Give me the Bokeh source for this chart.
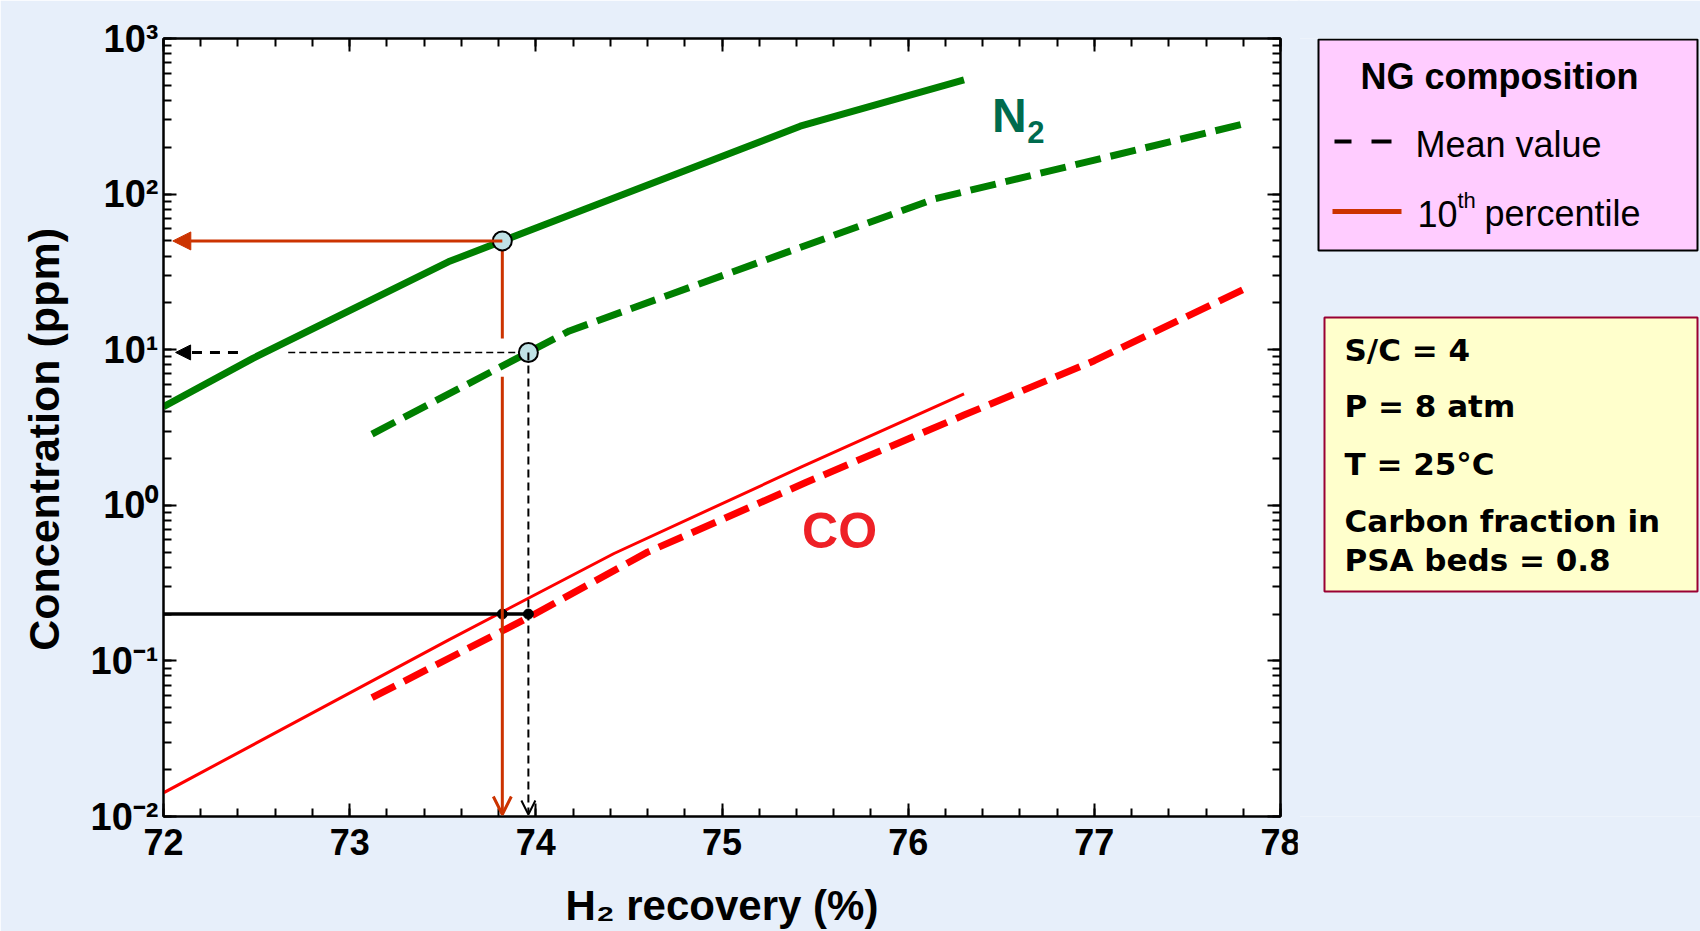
from bokeh.plotting import figure
from bokeh.models import (Range1d, LinearAxis, LogAxis, Arrow, NormalHead, OpenHead,
                          CustomJSTickFormatter, SingleIntervalTicker, LogTicker)
from bokeh.layouts import row
from bokeh.embed import file_html
from bokeh.resources import INLINE
from bokeh.core.properties import value

# ---------------- data ----------------
x_ticks = [72, 73, 74, 75, 76, 77, 78]
y_ticks = [0.01, 0.1, 1, 10, 100, 1000]
y_tick_labels = ["10\u207b\u00b2", "10\u207b\u00b9", "10\u2070", "10\u00b9", "10\u00b2", "10\u00b3"]

# N2, 10th percentile NG composition (solid)
n2_p10_x = [72.0, 72.48, 73.53, 75.42, 76.30]
n2_p10_y = [4.3, 8.8, 36.7, 273, 543]
# N2, mean NG composition (dashed)
n2_mean_x = [73.12, 74.18, 76.14, 77.82]
n2_mean_y = [2.87, 13.2, 93, 286]
# CO, 10th percentile (solid thin)
co_p10_x = [72.0, 73.53, 74.42, 75.43, 76.30]
co_p10_y = [0.0142, 0.136, 0.49, 1.77, 5.2]
# CO, mean (dashed)
co_mean_x = [73.12, 73.96, 74.60, 75.45, 76.30, 77.00, 77.82]
co_mean_y = [0.058, 0.19, 0.50, 1.40, 3.8, 8.5, 25.0]

# read-off points
co_limit = 0.2
p10_recovery = 73.82
mean_recovery = 73.96
p10_n2 = 50.0
mean_n2 = 9.6

legend_title = "NG composition"
legend_items = ["Mean value", "percentile"]
conditions = ["S/C = 4", "P = 8 atm", "T = 25\u00b0C", "Carbon fraction in", "PSA beds = 0.8"]

# ---------------- styles ----------------
BG = "#E7EFFA"
GREEN = "#007F00"
RED = "#FF0000"
ORANGE = "#CC3300"
N2_COLOR = "#006B4E"
CO_COLOR = "#EE2026"
FONT = "Liberation Sans"

p = figure(frame_width=1117, frame_height=778, x_range=Range1d(72, 78), y_range=Range1d(0.01, 1000),
           y_axis_type="log", output_backend="svg", toolbar_location=None,
           min_border_left=163, min_border_right=20, min_border_top=38, min_border_bottom=115,
           background_fill_color="white", border_fill_color=BG,
           outline_line_color="black", outline_line_width=2)
p.grid.visible = False

p.xaxis.ticker = SingleIntervalTicker(interval=1, num_minor_ticks=5)
p.yaxis.ticker = LogTicker(num_minor_ticks=10)
p.yaxis.major_label_overrides = {t: l for t, l in zip(y_ticks, y_tick_labels)}


def style(ax):
    ax.axis_line_color = "black"
    ax.axis_line_width = 2
    ax.major_tick_in = 13
    ax.major_tick_out = 0
    ax.minor_tick_in = 8
    ax.minor_tick_out = 0
    ax.major_tick_line_width = 2
    ax.minor_tick_line_width = 2
    ax.minor_tick_line_color = "black"
    ax.major_label_text_font = FONT
    ax.major_label_text_font_style = "bold"
    ax.major_label_text_font_size = "36px"
    ax.major_label_text_color = "black"
    ax.axis_label_text_font = FONT
    ax.axis_label_text_font_style = "bold"
    ax.axis_label_text_font_size = "42px"
    ax.axis_label_text_color = "black"


for ax in p.xaxis + p.yaxis:
    style(ax)
p.xaxis.major_label_standoff = 12
p.xaxis.axis_label = "H\u2082 recovery (%)"
p.xaxis.axis_label_standoff = 24
p.yaxis.major_label_standoff = 5
p.yaxis.major_label_text_font_size = "38px"
p.yaxis.axis_label = "Concentration (ppm)\u00a0\u00a0"
p.yaxis.axis_label_text_font_size = "43px"
p.yaxis.axis_label_standoff = 20

blank = CustomJSTickFormatter(code="return ''")
top_ax = LinearAxis(ticker=SingleIntervalTicker(interval=1, num_minor_ticks=5), formatter=blank)
right_ax = LogAxis(ticker=LogTicker(num_minor_ticks=10), formatter=blank)
for ax in (top_ax, right_ax):
    style(ax)
    ax.major_label_standoff = 0
p.add_layout(top_ax, "above")
p.add_layout(right_ax, "right")

# curves
p.line(n2_p10_x, n2_p10_y, line_color=GREEN, line_width=7)
p.line(n2_mean_x, n2_mean_y, line_color=GREEN, line_width=7, line_dash="26 10")
p.line(co_p10_x, co_p10_y, line_color=RED, line_width=3)
p.line(co_mean_x, co_mean_y, line_color=RED, line_width=7, line_dash="26 10")

# read-off guides: 10th percentile (orange-red)
p.add_layout(Arrow(end=NormalHead(size=18, fill_color=ORANGE, line_color=ORANGE),
                   x_start=p10_recovery, y_start=p10_n2, x_end=72.05, y_end=p10_n2,
                   line_color=ORANGE, line_width=3))
p.line([p10_recovery, p10_recovery], [p10_n2, 11.8], line_color=ORANGE, line_width=3)
p.add_layout(Arrow(end=OpenHead(size=18, line_color=ORANGE, line_width=3),
                   x_start=p10_recovery, y_start=6.7, x_end=p10_recovery, y_end=0.0103,
                   line_color=ORANGE, line_width=3))
# read-off guides: mean value (black dashed)
p.add_layout(Arrow(end=NormalHead(size=15, fill_color="black", line_color="black"),
                   x_start=72.40, y_start=mean_n2, x_end=72.065, y_end=mean_n2,
                   line_color="black", line_width=3, line_dash="10 8"))
p.line([72.67, mean_recovery], [mean_n2, mean_n2], line_color="black", line_width=1.5,
       line_dash="7 4")
p.add_layout(Arrow(end=OpenHead(size=14, line_color="black", line_width=2),
                   x_start=mean_recovery, y_start=mean_n2, x_end=mean_recovery, y_end=0.0103,
                   line_color="black", line_width=2, line_dash="8 5"))
p.line([72.0, mean_recovery], [co_limit, co_limit], line_color="black", line_width=3.5)
p.scatter([p10_recovery, mean_recovery], [co_limit, co_limit], size=10, color="black")
p.scatter([p10_recovery, mean_recovery], [p10_n2, mean_n2], size=19,
          fill_color="#BFE2E6", line_color="black", line_width=2)

# curve labels
p.text([76.45], [320], text=["N"], text_font=value(FONT), text_font_style="bold",
       text_font_size="48px", text_color=N2_COLOR, text_baseline="middle", text_align="left")
p.text([76.64], [250], text=["2"], text_font=value(FONT), text_font_style="bold",
       text_font_size="31px", text_color=N2_COLOR, text_baseline="middle", text_align="left")
p.text([75.43], [0.68], text=["CO"], text_font=value(FONT), text_font_style="bold",
       text_font_size="50px", text_color=CO_COLOR, text_baseline="middle", text_align="left")

# ---------------- side panel (legend + conditions) ----------------
# frame of this panel is aligned with the main frame (page y 38..816)
s = figure(width=403, height=931, x_range=Range1d(1297, 1700), y_range=Range1d(816, 38),
           output_backend="svg", toolbar_location=None,
           min_border_left=0, min_border_right=0, min_border_top=38, min_border_bottom=115,
           x_axis_location=None, y_axis_location=None, margin=(0, 0, 0, -3),
           background_fill_color=BG, border_fill_color=BG, outline_line_color=None)
s.grid.visible = False

s.quad(left=[1318], right=[1697], top=[39], bottom=[250], fill_color="#FFCCFF",
       line_color="black", line_width=2)
s.text([1499], [76], text=[legend_title], text_font=value(FONT), text_font_style="bold",
       text_font_size="36px", text_color="black", text_align="center", text_baseline="middle")
s.segment(x0=[1334, 1371], y0=[141, 141], x1=[1351, 1391], y1=[141, 141],
          line_color="black", line_width=4)
s.text([1415], [144], text=[legend_items[0]], text_font=value(FONT),
       text_font_size="36px", text_color="black", text_baseline="middle")
s.segment(x0=[1332], y0=[211], x1=[1401], y1=[211], line_color=ORANGE, line_width=5)
s.text([1417], [213], text=["10"], text_font=value(FONT),
       text_font_size="36px", text_color="black", text_baseline="middle")
s.text([1457], [200], text=["th"], text_font=value(FONT),
       text_font_size="22px", text_color="black", text_baseline="middle")
s.text([1484], [213], text=[legend_items[1]], text_font=value(FONT),
       text_font_size="36px", text_color="black", text_baseline="middle")

s.quad(left=[1324], right=[1697], top=[317], bottom=[591], fill_color="#FFFFCC",
       line_color="#990033", line_width=2)
s.text([1344] * 5, [349, 405, 463, 520, 559], text=conditions, text_font=value("DejaVu Sans"),
       text_font_style="bold", text_font_size="31px", text_color="black", text_baseline="middle")

layout = row(p, s)
open("out.html", "w").write(file_html(layout, INLINE))
